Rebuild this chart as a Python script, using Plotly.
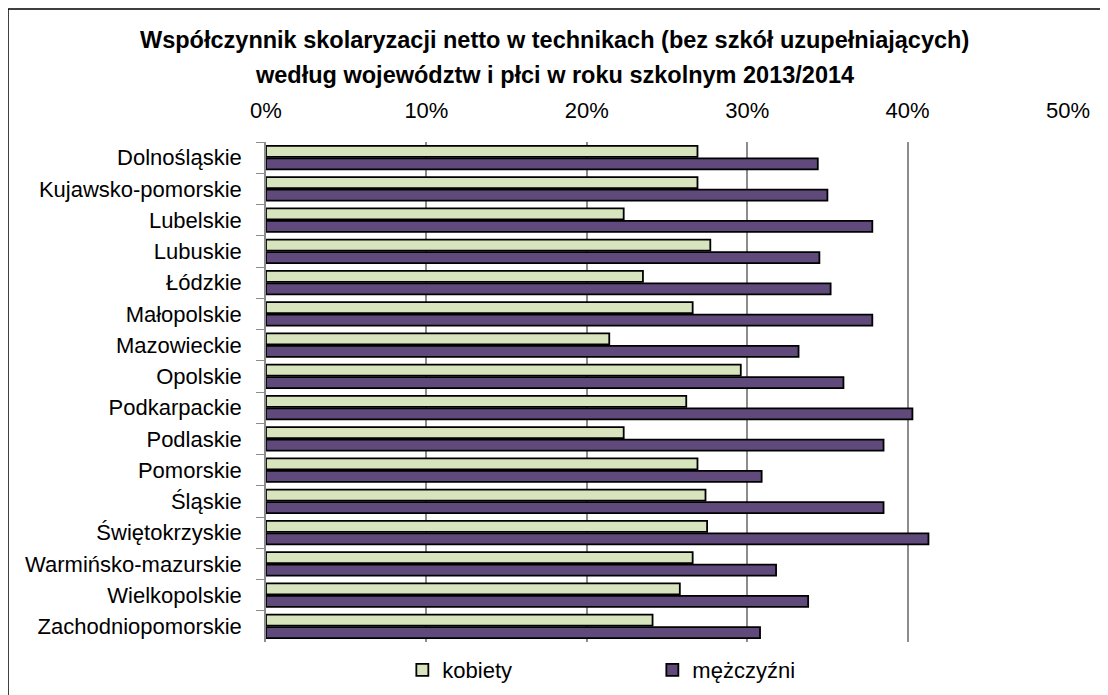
import plotly.graph_objects as go

regions = [
    "Dolnośląskie", "Kujawsko-pomorskie", "Lubelskie", "Lubuskie", "Łódzkie",
    "Małopolskie", "Mazowieckie", "Opolskie", "Podkarpackie", "Podlaskie",
    "Pomorskie", "Śląskie", "Świętokrzyskie", "Warmińsko-mazurskie",
    "Wielkopolskie", "Zachodniopomorskie",
]
kobiety = [26.9, 26.9, 22.3, 27.7, 23.5, 26.6, 21.4, 29.6, 26.2, 22.3,
           26.9, 27.4, 27.5, 26.6, 25.8, 24.1]
mezczyzni = [34.4, 35.0, 37.8, 34.5, 35.2, 37.8, 33.2, 36.0, 40.3, 38.5,
             30.9, 38.5, 41.3, 31.8, 33.8, 30.8]
x_ticks = [0, 10, 20, 30, 40, 50]
title_lines = [
    "Współczynnik skolaryzacji netto w technikach (bez szkół uzupełniających)",
    "według województw i płci w roku szkolnym 2013/2014",
]

font = "Liberation Sans, Arial, sans-serif"

fig = go.Figure()
fig.add_trace(go.Bar(
    y=regions, x=kobiety, name="kobiety", orientation="h",
    marker=dict(color="#D7E4BD", line=dict(color="black", width=1.8)),
))
fig.add_trace(go.Bar(
    y=regions, x=mezczyzni, name="mężczyźni", orientation="h",
    marker=dict(color="#604A7B", line=dict(color="black", width=1.8)),
))

# title as two annotations, positioned relative to the plot area
for line, ypos in zip(title_lines, [1.203, 1.135]):
    fig.add_annotation(
        text=f"<b>{line}</b>", xref="paper", yref="paper",
        x=0.36, y=ypos, xanchor="center", yanchor="middle",
        showarrow=False, font=dict(family=font, size=23.5, color="black"),
    )

# page body adds an 8px offset, so margins are 8px smaller than on screen
fig.update_layout(
    width=1108, height=695,
    margin=dict(l=258, r=48, t=134, b=61, autoexpand=False),
    paper_bgcolor="white", plot_bgcolor="white",
    font=dict(family=font, size=22, color="black"),
    barmode="group", bargap=0.2, bargroupgap=0.12,
    showlegend=True,
    legend=dict(
        orientation="h", x=0.17, xanchor="left", y=-0.056, yanchor="middle",
        font=dict(size=22), entrywidth=205, traceorder="normal",
        bgcolor="rgba(0,0,0,0)",
    ),
    shapes=[dict(
        type="rect", xref="paper", yref="paper",
        x0=-0.3217, x1=1.0586, y0=-0.126, y1=1.266,
        line=dict(color="black", width=1.5), fillcolor="rgba(0,0,0,0)",
        layer="above",
    )],
)

fig.update_xaxes(
    side="top", range=[0, 50], tickvals=x_ticks,
    ticktext=[f"{v}%" for v in x_ticks],
    showgrid=True, gridcolor="#8C8C8C", gridwidth=1.5,
    zeroline=False, showline=False, ticks="", ticklabelstandoff=19,
    automargin=False,
)
fig.update_yaxes(
    autorange="reversed", showline=True, linecolor="#8C8C8C", linewidth=1.5,
    ticks="outside", tickson="boundaries", ticklen=8, tickcolor="#8C8C8C",
    showgrid=False, ticklabelstandoff=18, automargin=False,
)

fig.write_html("out.html")
